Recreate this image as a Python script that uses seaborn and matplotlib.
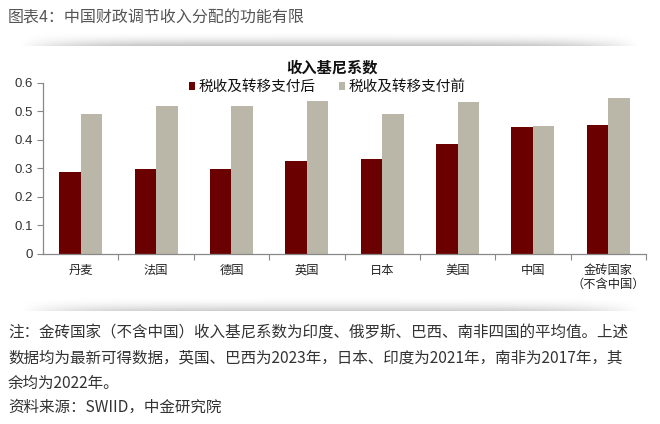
import numpy as np
import pandas as pd
import matplotlib
matplotlib.use("Agg")
import matplotlib.pyplot as plt
from matplotlib.ticker import FixedLocator
from matplotlib.patches import Patch
import seaborn as sns

categories = ["丹麦", "法国", "德国", "英国", "日本", "美国", "中国", "金砖国家\n（不含中国）"]
after_tax = [0.287, 0.298, 0.298, 0.325, 0.333, 0.387, 0.446, 0.451]
before_tax = [0.490, 0.518, 0.518, 0.536, 0.490, 0.534, 0.449, 0.545]
series_names = ["税收及转移支付后", "税收及转移支付前"]
yticks = [0, 0.1, 0.2, 0.3, 0.4, 0.5, 0.6]
ytick_labels = ["0", "0.1", "0.2", "0.3", "0.4", "0.5", "0.6"]

header = "图表4：中国财政调节收入分配的功能有限"
chart_title = "收入基尼系数"
notes = [
    "注：金砖国家（不含中国）收入基尼系数为印度、俄罗斯、巴西、南非四国的平均值。上述",
    "数据均为最新可得数据，英国、巴西为2023年，日本、印度为2021年，南非为2017年，其",
    "余均为2022年。",
    "资料来源：SWIID，中金研究院",
]

sns.set_style("white")
CJK = ["Noto Sans CJK SC", "DejaVu Sans"]
plt.rcParams["font.family"] = CJK

df = pd.DataFrame({
    "cat": categories * 2,
    "series": [series_names[0]] * len(categories) + [series_names[1]] * len(categories),
    "value": after_tax + before_tax,
})

W, H = 660, 424
fig = plt.figure(figsize=(W / 100, H / 100), dpi=100)
fig.patch.set_facecolor("white")

def fx(px):
    return px / W

def fy(py):
    return 1 - py / H

ax = fig.add_axes([fx(43), fy(254), fx(646) - fx(43), fy(82.7) - fy(254)])
palette = {series_names[0]: "#6B0000", series_names[1]: "#BAB7A9"}
sns.barplot(data=df, x="cat", y="value", hue="series", palette=palette,
            width=0.57, gap=0, saturation=1, ax=ax, legend=False)
for p in ax.patches:
    p.set_edgecolor("none")

ax.set_xlim(-0.5, len(categories) - 0.5)
ax.set_ylim(0, 0.6)
ax.set_xlabel("")
ax.set_ylabel("")
ax.set_yticks(yticks)
ax.set_yticklabels(ytick_labels, fontsize=9.5, family=["Liberation Sans", "DejaVu Sans"], color="#333333")
ax.tick_params(axis="y", which="major", direction="out", length=4, width=0.8, color="#888888", pad=3, left=True)
ax.set_xticks(range(len(categories)))
ax.set_xticklabels(categories, fontsize=8.8, color="#222222", linespacing=1.15)
ax.tick_params(axis="x", which="major", length=0, pad=7)
ax.xaxis.set_minor_locator(FixedLocator(np.arange(0.5, len(categories) + 0.5, 1.0)))
ax.tick_params(axis="x", which="minor", direction="out", length=4, width=0.8, color="#888888", bottom=True)
for s in ["top", "right"]:
    ax.spines[s].set_visible(False)
for s in ["left", "bottom"]:
    ax.spines[s].set_color("#888888")
    ax.spines[s].set_linewidth(0.9)
ax.grid(False)

# legend
handles = [Patch(facecolor=palette[n], edgecolor="none") for n in series_names]
leg = fig.legend(handles, series_names, loc="center", bbox_to_anchor=(fx(327), fy(87)),
                 ncol=2, frameon=False, fontsize=10.5, handlelength=0.45, handleheight=0.45,
                 handletextpad=0.2, columnspacing=1.6, borderpad=0)
for t in leg.get_texts():
    t.set_color("#111111")

fig.text(fx(332), fy(68), chart_title, ha="center", va="center", fontsize=11, fontweight="bold", color="#111111")

# header
fig.text(fx(8), fy(18), header, ha="left", va="center", fontsize=11.5, color="#555555")

# soft shadow separators
def shadow(y0, y1, strength):
    sax = fig.add_axes([fx(20), fy(y1), fx(640) - fx(20), fy(y0) - fy(y1)])
    xs = np.linspace(-1, 1, 400)
    ys = np.linspace(0, 1, 40)
    X, Y = np.meshgrid(xs, ys)
    horiz = np.clip(1 - np.abs(X) ** 5, 0, 1)
    vert = Y ** 2.2
    Z = horiz * vert * strength
    rgba = np.zeros(Z.shape + (4,))
    rgba[..., 3] = Z
    sax.imshow(rgba, aspect="auto", extent=[0, 1, 1, 0], interpolation="bilinear")
    sax.axis("off")

shadow(30, 46, 0.25)
shadow(296, 311, 0.2)

ys_notes = [333, 358, 383, 407]
for t, y in zip(notes, ys_notes):
    fig.text(fx(8), fy(y), t, ha="left", va="center", fontsize=11.2, color="#333333")

fig.savefig("out.png", dpi=100, facecolor="white")
